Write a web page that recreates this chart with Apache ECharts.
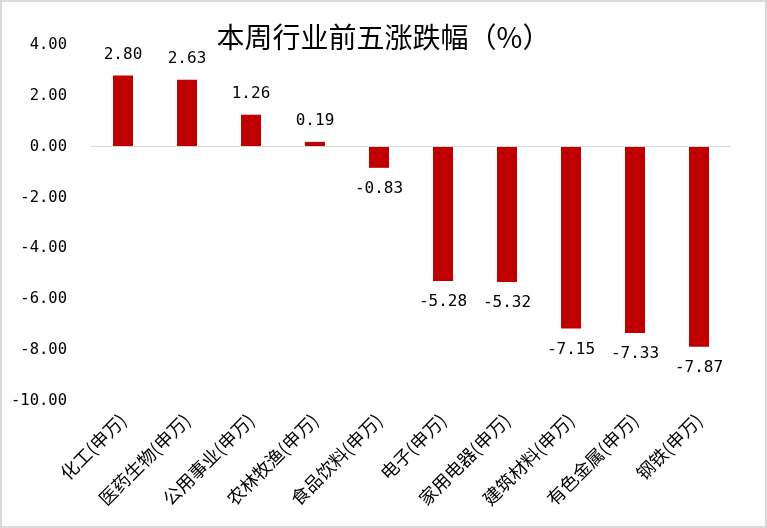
<!DOCTYPE html>
<html>
<head>
<meta charset="utf-8">
<script src="https://cdn.jsdelivr.net/npm/echarts@6/dist/echarts.min.js"></script>
<style>
  body { margin: 0; }
  #chart { width: 767px; height: 528px; box-sizing: border-box; border: 2px solid #d9d9d9; }
</style>
</head>
<body>
<div id="chart"></div>
<script>
const categories = ['化工(申万)', '医药生物(申万)', '公用事业(申万)', '农林牧渔(申万)', '食品饮料(申万)',
  '电子(申万)', '家用电器(申万)', '建筑材料(申万)', '有色金属(申万)', '钢铁(申万)']
const values = [2.80, 2.63, 1.26, 0.19, -0.83, -5.28, -5.32, -7.15, -7.33, -7.87]
const yMin = -10
const yMax = 4
const yStep = 2

const cjkFont = '"Noto Sans CJK SC", sans-serif'
const numFont = '"DejaVu Sans Mono", monospace'
let myEcharts = echarts.init(document.getElementById('chart'))
myEcharts.setOption({
  animation: false,
  title: {
    text: '本周行业前五涨跌幅（%）',
    left: 'center',
    top: 16,
    textStyle: { fontFamily: cjkFont, fontSize: 28, fontWeight: 'normal', color: '#000' }
  },
  grid: { left: 89, right: 34, top: 43, bottom: 125 },
  xAxis: {
    type: 'category',
    data: categories,
    axisLine: { show: false },
    axisTick: { show: false },
    axisLabel: {
      rotate: 45,
      interval: 0,
      margin: 16,
      fontFamily: cjkFont,
      fontSize: 18,
      color: '#000'
    }
  },
  yAxis: {
    type: 'value',
    min: yMin,
    max: yMax,
    interval: yStep,
    splitLine: { show: false },
    axisLine: { show: false },
    axisTick: { show: false },
    axisLabel: {
      margin: 24,
      fontFamily: numFont,
      fontSize: 15.5,
      color: '#000',
      formatter: v => v.toFixed(2)
    }
  },
  series: [
    {
      type: 'bar',
      barWidth: 20,
      itemStyle: { color: '#c00000' },
      data: values.map(v => ({
        value: v,
        label: { position: v >= 0 ? 'top' : 'bottom' }
      })),
      label: {
        show: true,
        distance: 13,
        fontFamily: numFont,
        fontSize: 16,
        color: '#000',
        formatter: p => p.value.toFixed(2)
      },
      markLine: {
        silent: true,
        symbol: 'none',
        label: { show: false },
        lineStyle: { color: '#d9d9d9', width: 1, type: 'solid' },
        data: [{ yAxis: 0 }]
      }
    }
  ]
})
</script>
</body>
</html>
